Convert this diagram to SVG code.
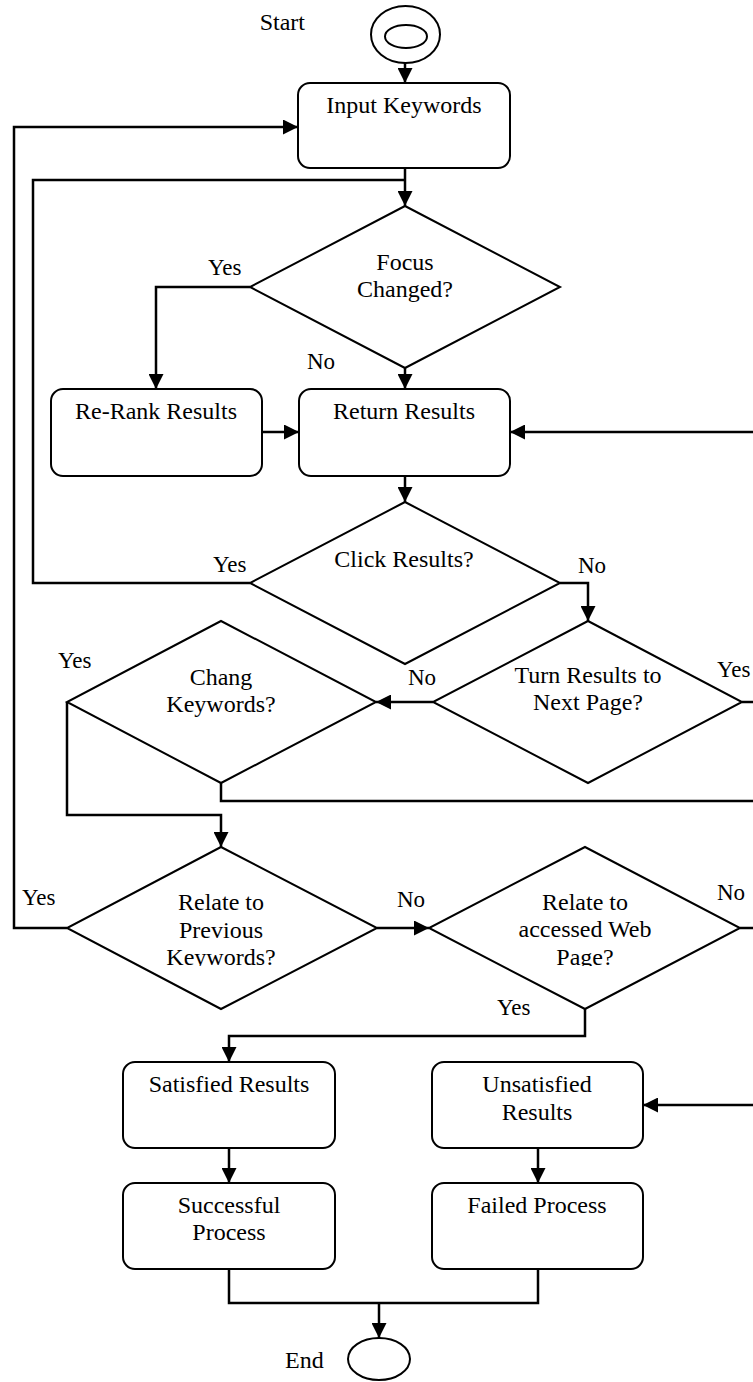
<svg xmlns="http://www.w3.org/2000/svg" width="753" height="1382" viewBox="0 0 753 1382">
  <style>
    .shape { fill: #ffffff; stroke: #000000; stroke-width: 2; }
    .edge { fill: none; stroke: #000000; stroke-width: 2.5; }
    text { font-family: "Liberation Serif", "Times New Roman", serif; font-size: 24px; fill: #000000; }
    .c { text-anchor: middle; }
    .lbl { font-size: 23px; }
  </style>
  <defs>
    <marker id="arrow" markerUnits="userSpaceOnUse" markerWidth="15" markerHeight="15" viewBox="0 0 15 15" refX="15" refY="7.5" orient="auto">
      <path d="M0,0 L15,7.5 L0,15 z" fill="#000000"/>
    </marker>
    <clipPath id="clipText">
      <rect x="0" y="840" width="753" height="126"/>
    </clipPath>
  </defs>

  <!-- connectors -->
  <g id="connectors">
    <path class="edge" d="M405,63 L405,83" marker-end="url(#arrow)"/>
    <path class="edge" d="M405,168 L405,206" marker-end="url(#arrow)"/>
    <path class="edge" d="M250,287 L156,287 L156,389" marker-end="url(#arrow)"/>
    <path class="edge" d="M405,368 L405,389" marker-end="url(#arrow)"/>
    <path class="edge" d="M262,432 L299,432" marker-end="url(#arrow)"/>
    <path class="edge" d="M753,432 L510,432" marker-end="url(#arrow)"/>
    <path class="edge" d="M405,476 L405,502" marker-end="url(#arrow)"/>
    <path class="edge" d="M250,583 L33,583 L33,180 L405,180"/>
    <path class="edge" d="M560,583 L588,583 L588,621" marker-end="url(#arrow)"/>
    <path class="edge" d="M433,702 L376,702" marker-end="url(#arrow)"/>
    <path class="edge" d="M742,702 L753,702"/>
    <path class="edge" d="M221,783 L221,801 L753,801"/>
    <path class="edge" d="M67,702 L67,815 L221,815 L221,847" marker-end="url(#arrow)"/>
    <path class="edge" d="M67,928 L14,928 L14,127 L298,127" marker-end="url(#arrow)"/>
    <path class="edge" d="M377,928 L429,928" marker-end="url(#arrow)"/>
    <path class="edge" d="M740,928 L753,928"/>
    <path class="edge" d="M585,1009 L585,1036 L229,1036 L229,1062" marker-end="url(#arrow)"/>
    <path class="edge" d="M753,1105 L643,1105" marker-end="url(#arrow)"/>
    <path class="edge" d="M229,1148 L229,1183" marker-end="url(#arrow)"/>
    <path class="edge" d="M538,1148 L538,1183" marker-end="url(#arrow)"/>
    <path class="edge" d="M229,1269 L229,1303 L538,1303 L538,1269"/>
    <path class="edge" d="M379,1303 L379,1338" marker-end="url(#arrow)"/>

    <!-- branch labels -->
    <text class="lbl" x="208" y="275">Yes</text>
    <text class="lbl" x="307" y="369">No</text>
    <text class="lbl" x="213" y="572">Yes</text>
    <text class="lbl" x="578" y="573">No</text>
    <text class="lbl" x="717" y="677">Yes</text>
    <text class="lbl" x="408" y="685">No</text>
    <text class="lbl" x="58" y="668">Yes</text>
    <text class="lbl" x="22" y="905">Yes</text>
    <text class="lbl" x="397" y="907">No</text>
    <text class="lbl" x="717" y="900">No</text>
    <text class="lbl" x="497" y="1015">Yes</text>
  </g>

  <!-- start -->
  <g id="start">
    <ellipse class="shape" cx="405.5" cy="34.5" rx="34.5" ry="28.5"/>
    <ellipse class="shape" cx="406" cy="36.5" rx="21" ry="11.5"/>
    <text x="305" y="30" text-anchor="end">Start</text>
  </g>

  <g id="input-keywords">
    <rect class="shape" x="298" y="83" width="212" height="85" rx="12"/>
    <text class="c" x="404" y="113">Input Keywords</text>
  </g>

  <g id="focus-changed">
    <polygon class="shape" points="405,206 560,287 405,368 250,287"/>
    <text class="c" x="405" y="270">Focus</text>
    <text class="c" x="405" y="297">Changed?</text>
  </g>

  <g id="re-rank-results">
    <rect class="shape" x="51" y="389" width="211" height="87" rx="12"/>
    <text class="c" x="156" y="419">Re-Rank Results</text>
  </g>

  <g id="return-results">
    <rect class="shape" x="299" y="389" width="211" height="87" rx="12"/>
    <text class="c" x="404" y="419">Return Results</text>
  </g>

  <g id="click-results">
    <polygon class="shape" points="405,502 560,583 405,664 250,583"/>
    <text class="c" x="404" y="567">Click Results?</text>
  </g>

  <g id="turn-results">
    <polygon class="shape" points="588,621 742,702 588,783 433,702"/>
    <text class="c" x="588" y="683">Turn Results to</text>
    <text class="c" x="588" y="710">Next Page?</text>
  </g>

  <g id="chang-keywords">
    <polygon class="shape" points="221,621 376,702 221,783 67,702"/>
    <text class="c" x="221" y="685">Chang</text>
    <text class="c" x="221" y="712">Keywords?</text>
  </g>

  <g id="relate-previous">
    <polygon class="shape" points="221,847 377,928 221,1009 67,928"/>
    <g clip-path="url(#clipText)">
      <text class="c" x="221" y="910">Relate to</text>
      <text class="c" x="221" y="938">Previous</text>
      <text class="c" x="221" y="965">Keywords?</text>
    </g>
  </g>

  <g id="relate-web-page">
    <polygon class="shape" points="585,847 740,928 585,1009 429,928"/>
    <g clip-path="url(#clipText)">
      <text class="c" x="585" y="910">Relate to</text>
      <text class="c" x="585" y="937">accessed Web</text>
      <text class="c" x="585" y="965">Page?</text>
    </g>
  </g>

  <g id="satisfied-results">
    <rect class="shape" x="123" y="1062" width="212" height="86" rx="12"/>
    <text class="c" x="229" y="1092">Satisfied Results</text>
  </g>

  <g id="unsatisfied-results">
    <rect class="shape" x="432" y="1062" width="211" height="86" rx="12"/>
    <text class="c" x="537" y="1092">Unsatisfied</text>
    <text class="c" x="537" y="1120">Results</text>
  </g>

  <g id="successful-process">
    <rect class="shape" x="123" y="1183" width="212" height="86" rx="12"/>
    <text class="c" x="229" y="1213">Successful</text>
    <text class="c" x="229" y="1240">Process</text>
  </g>

  <g id="failed-process">
    <rect class="shape" x="432" y="1183" width="211" height="86" rx="12"/>
    <text class="c" x="537" y="1213">Failed Process</text>
  </g>

  <g id="end">
    <ellipse class="shape" cx="379" cy="1359" rx="31" ry="21"/>
    <text x="285" y="1368">End</text>
  </g>
</svg>
